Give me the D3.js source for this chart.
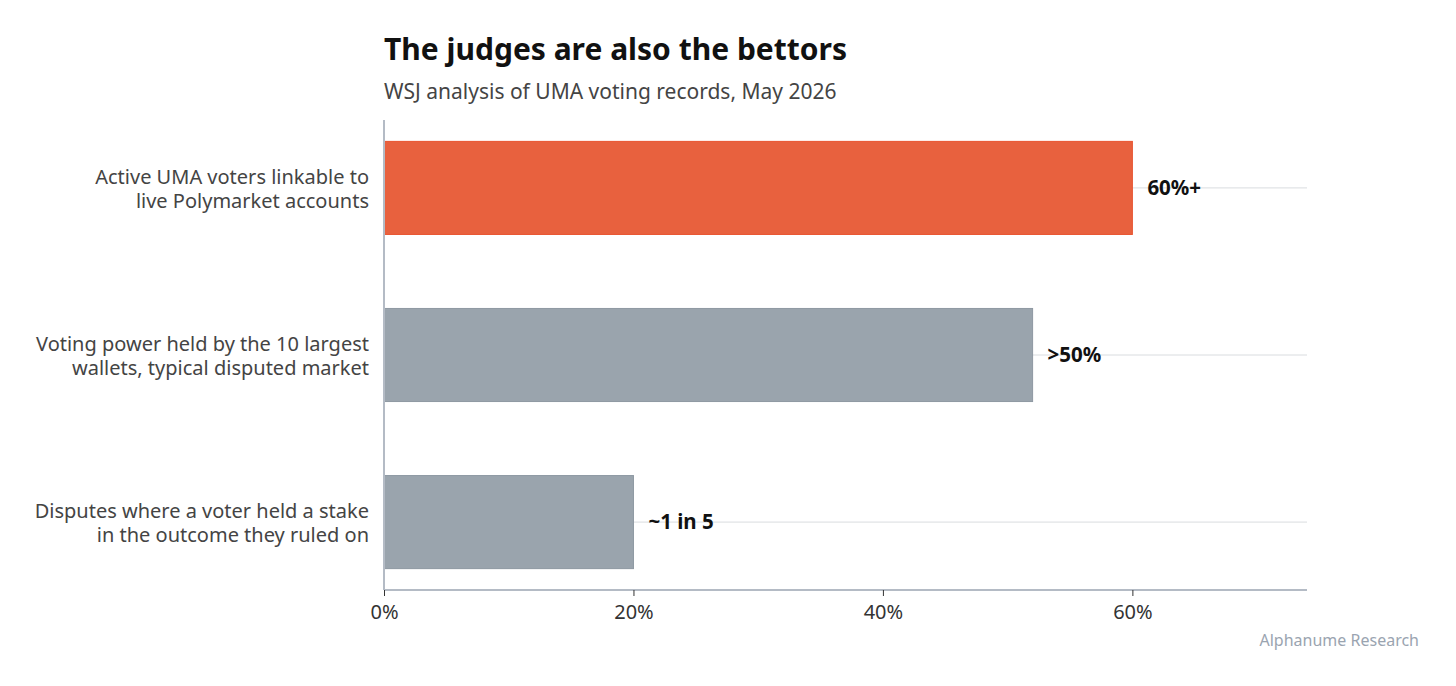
<!DOCTYPE html>
<html>
<head>
<meta charset="utf-8">
<script src="https://cdn.jsdelivr.net/npm/d3@7"></script>
<style>
  body { margin: 0; background: #fff; }
  svg { display: block; font-family: "Noto Sans", "Open Sans", sans-serif; }
</style>
</head>
<body>
<svg id="chart" width="1456" height="686"></svg>
<script>
// data
var categories = [
  ["Active UMA voters linkable to", "live Polymarket accounts"],
  ["Voting power held by the 10 largest", "wallets, typical disputed market"],
  ["Disputes where a voter held a stake", "in the outcome they ruled on"]
];
var values = [0.60, 0.52, 0.20];
var valueLabels = ["60%+", ">50%", "~1 in 5"];
var highlight = [true, false, false];
var xTicks = [0, 0.2, 0.4, 0.6];

var svg = d3.select("#chart");
var plotLeft = 384, plotRight = 1307, plotTop = 120, plotBottom = 590;

var x = d3.scaleLinear().domain([0, 0.74]).range([plotLeft, plotRight]);
var y = d3.scaleBand().domain(d3.range(values.length)).range([plotTop, plotBottom])
  .paddingInner(0.443).paddingOuter(0.128);

// title
svg.append("text").attr("x", plotLeft).attr("y", 60)
  .attr("font-size", 30).attr("font-weight", 700).attr("fill", "#111")
  .text("The judges are also the bettors");
svg.append("text").attr("x", plotLeft).attr("y", 99)
  .attr("font-size", 21).attr("fill", "#444")
  .text("WSJ analysis of UMA voting records, May 2026");

// grid lines at bar centre
svg.append("g").selectAll("line").data(values).join("line")
  .attr("x1", plotLeft).attr("x2", plotRight)
  .attr("y1", (d, i) => y(i) + y.bandwidth() / 2)
  .attr("y2", (d, i) => y(i) + y.bandwidth() / 2)
  .attr("stroke", "#d9dcdf").attr("stroke-width", 1);

// bars
svg.append("g").selectAll("rect").data(values).join("rect")
  .attr("x", x(0))
  .attr("y", (d, i) => y(i))
  .attr("width", d => x(d) - x(0))
  .attr("height", y.bandwidth())
  .attr("fill", (d, i) => highlight[i] ? "#e8613e" : "#9aa4ad")
  .attr("stroke", (d, i) => highlight[i] ? "#e8532f" : "#8e98a2")
  .attr("stroke-width", 1);

// value labels
svg.append("g").selectAll("text").data(values).join("text")
  .attr("x", d => x(d) + 15)
  .attr("y", (d, i) => y(i) + y.bandwidth() / 2)
  .attr("dy", "0.35em")
  .attr("font-size", 20.5).attr("font-weight", 700).attr("fill", "#111")
  .text((d, i) => valueLabels[i]);

// category labels
var cat = svg.append("g").selectAll("text").data(categories).join("text")
  .attr("x", plotLeft - 15)
  .attr("y", (d, i) => y(i) + y.bandwidth() / 2)
  .attr("text-anchor", "end")
  .attr("font-size", 20).attr("fill", "#444");
cat.each(function(d) {
  var t = d3.select(this);
  d.forEach((line, j) => {
    t.append("tspan").attr("x", plotLeft - 15)
      .attr("dy", j === 0 ? "-0.22em" : "1.2em")
      .text(line);
  });
});

// y axis line
svg.append("line").attr("x1", plotLeft).attr("x2", plotLeft)
  .attr("y1", plotTop).attr("y2", plotBottom)
  .attr("stroke", "#b4bbc5").attr("stroke-width", 2);

// x axis
var xAxis = svg.append("g").attr("transform", "translate(0," + plotBottom + ")")
  .call(d3.axisBottom(x).tickValues(xTicks).tickFormat(d3.format(".0%")).tickSize(6).tickPadding(9));
xAxis.select(".domain").attr("stroke", "#b4bbc5").attr("stroke-width", 2)
  .attr("d", "M" + plotLeft + ",0H" + plotRight);
xAxis.selectAll(".tick line").attr("stroke", "#333");
xAxis.selectAll(".tick text").attr("font-size", 20).attr("fill", "#333")
  .attr("font-family", "\"Noto Sans\", sans-serif");

// source
svg.append("text").attr("x", 1419).attr("y", 646)
  .attr("text-anchor", "end").attr("font-size", 16).attr("fill", "#9aa4b0")
  .text("Alphanume Research");
</script>
</body>
</html>
